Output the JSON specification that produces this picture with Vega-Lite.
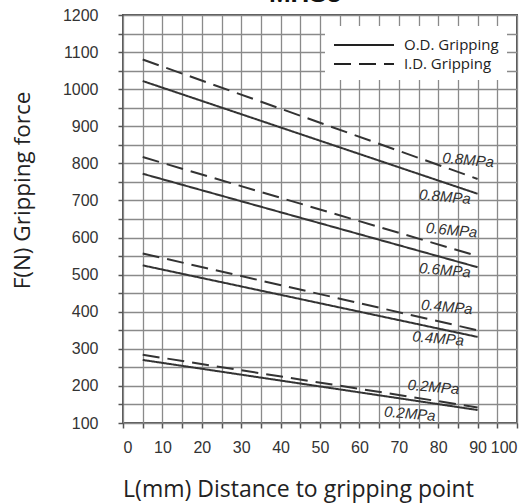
{
  "$schema": "https://vega.github.io/schema/vega-lite/v6.json",
  "width": 394,
  "height": 408,
  "autosize": "none",
  "padding": {"left": 123, "top": 15, "right": 15, "bottom": 81},
  "title": {"text": "MHS3", "fontSize": 26, "font": "Liberation Sans", "fontWeight": "bold", "color": "#111", "offset": 0, "anchor": "middle", "dx": -15},
  "datasets": {
    "lines": [
      {"L": 5, "F": 1022, "type": "O.D. Gripping", "p": "0.8"},
      {"L": 90, "F": 718, "type": "O.D. Gripping", "p": "0.8"},
      {"L": 5, "F": 1080, "type": "I.D. Gripping", "p": "0.8"},
      {"L": 90, "F": 758, "type": "I.D. Gripping", "p": "0.8"},
      {"L": 5, "F": 772, "type": "O.D. Gripping", "p": "0.6"},
      {"L": 90, "F": 520, "type": "O.D. Gripping", "p": "0.6"},
      {"L": 5, "F": 817, "type": "I.D. Gripping", "p": "0.6"},
      {"L": 90, "F": 550, "type": "I.D. Gripping", "p": "0.6"},
      {"L": 5, "F": 525, "type": "O.D. Gripping", "p": "0.4"},
      {"L": 90, "F": 332, "type": "O.D. Gripping", "p": "0.4"},
      {"L": 5, "F": 557, "type": "I.D. Gripping", "p": "0.4"},
      {"L": 90, "F": 350, "type": "I.D. Gripping", "p": "0.4"},
      {"L": 5, "F": 270, "type": "O.D. Gripping", "p": "0.2"},
      {"L": 90, "F": 135, "type": "O.D. Gripping", "p": "0.2"},
      {"L": 5, "F": 284, "type": "I.D. Gripping", "p": "0.2"},
      {"L": 90, "F": 142, "type": "I.D. Gripping", "p": "0.2"}
    ],
    "labels": [
      {"L": 87.6, "F": 809, "label": "0.8MPa"},
      {"L": 81.7, "F": 710, "label": "0.8MPa"},
      {"L": 83.4, "F": 620, "label": "0.6MPa"},
      {"L": 81.7, "F": 512, "label": "0.6MPa"},
      {"L": 82.2, "F": 413, "label": "0.4MPa"},
      {"L": 80.0, "F": 328, "label": "0.4MPa"},
      {"L": 78.8, "F": 197, "label": "0.2MPa"},
      {"L": 72.8, "F": 125, "label": "0.2MPa"}
    ]
  },
  "encoding": {
    "x": {"field": "L", "type": "quantitative", "scale": {"domain": [0, 100], "nice": false},
      "axis": {"orient": "bottom", "values": [0,5,10,15,20,25,30,35,40,45,50,55,60,65,70,75,80,85,90,95,100],
        "labelExpr": "datum.value % 10 === 0 ? datum.label : ''",
        "grid": true, "gridColor": "#8a8a8a", "gridWidth": 1.3, "gridOpacity": 1,
        "ticks": true, "tickColor": "#555555", "tickWidth": 1.5, "tickSize": 5, "labelPadding": 11,
        "title": "L(mm) Distance to gripping point", "titleX": 175, "titleY": 73, "titleBaseline": "alphabetic", "titleAlign": "center", "titleFontSize": 23}},
    "y": {"field": "F", "type": "quantitative", "scale": {"domain": [100, 1200], "nice": false},
      "axis": {"orient": "left", "format": "d",
        "values": [100,150,200,250,300,350,400,450,500,550,600,650,700,750,800,850,900,950,1000,1050,1100,1150,1200],
        "labelExpr": "datum.value % 100 === 0 ? datum.label : ''",
        "grid": true, "gridColor": "#8a8a8a", "gridWidth": 1.3, "gridOpacity": 1,
        "ticks": true, "tickColor": "#555555", "tickWidth": 1.5, "tickSize": 5, "labelPadding": 20,
        "title": "F(N) Gripping force", "titleX": -101, "titleY": 175, "titleAngle": 270, "titleAlign": "center", "titleBaseline": "middle", "titleFontSize": 22.5}}
  },
  "layer": [
    {
      "data": {"name": "lines"},
      "mark": {"type": "line", "color": "#333", "strokeWidth": 2},
      "encoding": {
        "strokeDash": {"field": "type", "type": "nominal",
          "scale": {"domain": ["O.D. Gripping", "I.D. Gripping"], "range": [[1, 0], [17, 8]]},
          "legend": {"orient": "none", "legendX": 202, "legendY": 11, "title": null, "symbolType": "M-1,0H5", "symbolSize": 400, "symbolStrokeWidth": 2, "symbolStrokeColor": "#222", "symbolFillColor": "transparent", "labelFont": "Open Sans", "labelFontSize": 15, "labelColor": "#222", "labelOffset": 49, "fillColor": "white", "padding": 8, "rowPadding": -6}},
        "detail": {"field": "p", "type": "nominal"}
      }
    },
    {
      "data": {"name": "labels"},
      "mark": {"type": "text", "font": "Liberation Sans", "fontSize": 15, "fontStyle": "italic", "color": "#333", "angle": 5, "align": "center", "baseline": "middle"},
      "encoding": {
        "text": {"field": "label", "type": "nominal"}
      }
    }
  ],
  "config": {
    "view": {"stroke": "#555", "strokeWidth": 2},
    "axis": {"domain": false, "labelFont": "Liberation Sans", "labelFontSize": 16, "labelColor": "#333", "titleFont": "Open Sans", "titleFontWeight": "normal", "titleColor": "#222"}
  }
}
